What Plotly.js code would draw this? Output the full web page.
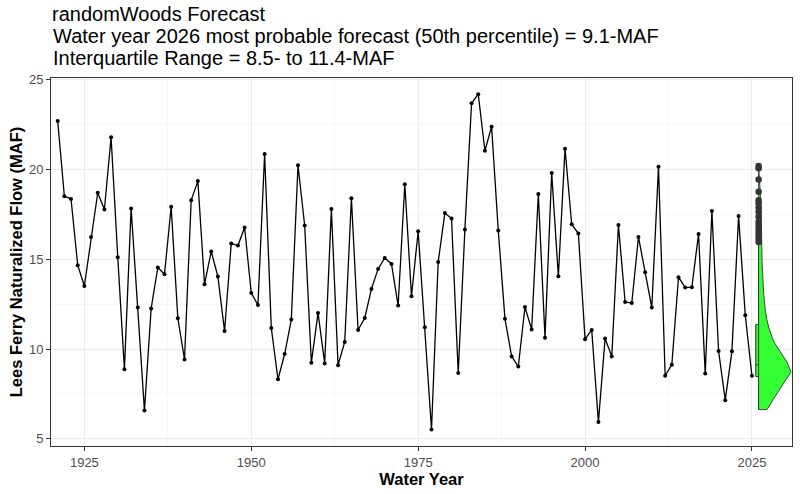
<!DOCTYPE html>
<html>
<head>
<meta charset="utf-8">
<script src="https://cdn.plot.ly/plotly-3.0.1.min.js"></script>
<style>html,body{margin:0;padding:0;background:#fff;}#chart{width:800px;height:494px;}</style>
</head>
<body>
<div id="chart"></div>
<script>
// Observed water-year naturalized flow at Lees Ferry (MAF), 1921-2025
const firstYear = 1921;
const flow = [
  22.70, 18.51, 18.35, 14.67, 13.51, 16.24, 18.70, 17.77, 21.79, 15.11,
  8.87, 17.83, 12.31, 6.58, 12.25, 14.54, 14.16, 17.92, 11.71, 9.42,
  18.29, 19.35, 13.61, 15.43, 14.04, 11.00, 15.88, 15.76, 16.77, 13.12,
  12.45, 20.86, 11.17, 8.31, 9.72, 11.64, 20.23, 16.88, 9.24, 12.01,
  9.20, 17.79, 9.10, 10.39, 18.39, 11.06, 11.73, 13.34, 14.46, 15.07,
  14.74, 12.42, 19.17, 12.94, 16.56, 11.21, 5.52, 14.85, 17.57, 17.27,
  8.66, 16.66, 23.68, 24.19, 21.04, 22.38, 16.60, 11.69, 9.59, 9.02,
  12.34, 11.08, 18.63, 10.63, 19.80, 14.05, 21.15, 16.95, 16.43, 10.55,
  11.06, 5.93, 10.58, 9.59, 16.90, 12.62, 12.56, 16.24, 14.28, 12.31,
  20.15, 8.51, 9.13, 14.00, 13.42, 13.44, 16.41, 8.63, 17.68, 9.89,
  7.15, 9.87, 17.40, 11.88, 8.51
];
const years = flow.map((_, i) => firstYear + i);

// 2026 forecast distribution
const forecastYear = 2026;
const boxQ1 = 8.47, boxMedian = 9.13, boxQ3 = 11.37, boxLower = 6.63, boxUpper = 15.9;
const outliers = [20.19, 20.06, 19.44, 18.75, 18.29, 18.11, 17.88, 17.64, 17.36, 17.08, 16.90, 16.71, 16.52, 16.34, 16.15, 15.96];
// half-violin density profile: flow level and half-width (in years on the x scale)
const violinLevels = [6.63, 7.2, 7.8, 8.3, 8.71, 9.0, 9.27, 9.55, 9.83, 10.11, 10.39, 10.67, 10.95, 11.22, 11.7, 12.16, 13.09, 14.0, 14.94, 16.06, 17.0, 17.73, 18.86, 20.19];
const violinWidth  = [1.26, 2.2, 3.2, 4.1, 4.85, 4.6, 4.25, 3.75, 3.25, 2.76, 2.3, 2.0, 1.7, 1.5, 1.2, 1.0, 0.75, 0.6, 0.51, 0.46, 0.42, 0.38, 0.22, 0.05];

const xTicks = [1925, 1950, 1975, 2000, 2025];
const yTicks = [5, 10, 15, 20, 25];

const titleLines = [
  'randomWoods Forecast',
  'Water year 2026 most probable forecast (50th percentile) = 9.1-MAF',
  'Interquartile Range = 8.5- to 11.4-MAF'
];

const vx = [forecastYear], vy = [violinLevels[0]];
for (let i = 0; i < violinLevels.length; i++) { vx.push(forecastYear + violinWidth[i]); vy.push(violinLevels[i]); }
vx.push(forecastYear); vy.push(violinLevels[violinLevels.length - 1]);
vx.push(forecastYear); vy.push(violinLevels[0]);

const FONT = 'Liberation Sans, Arial, Helvetica, sans-serif';
const TITLE_SIZE = 20;
const traces = [
  {type: 'scatter', mode: 'lines+markers', x: years, y: flow,
   line: {color: '#000000', width: 1.3}, marker: {color: '#000000', size: 4},
   hoverinfo: 'x+y', showlegend: false},
  {type: 'scatter', mode: 'lines', x: vx, y: vy, fill: 'toself',
   fillcolor: '#33FF33', line: {color: '#333333', width: 0.9}, showlegend: false, hoverinfo: 'skip'},
  {type: 'box', orientation: 'v', x: [forecastYear], q1: [boxQ1], median: [boxMedian], q3: [boxQ3],
   lowerfence: [boxLower], upperfence: [boxUpper], width: 0.85, boxpoints: false,
   fillcolor: '#33FF33', line: {color: '#333333', width: 1}, whiskerwidth: 0, showlegend: false},
  {type: 'scatter', mode: 'markers', x: outliers.map(() => forecastYear), y: outliers,
   marker: {color: '#333333', size: 6.5}, showlegend: false}
];

const axisCommon = {
  showline: true, mirror: true, linecolor: '#333333', linewidth: 1,
  showgrid: true, gridcolor: '#EBEBEB', gridwidth: 1, zeroline: false,
  ticks: 'outside', ticklen: 4, tickwidth: 1, tickcolor: '#333333',
  tickfont: {family: FONT, size: 13, color: '#4D4D4D'}
};

// paper y for a pixel row (plot area: top 78, bottom 446)
const pyToPaper = py => (446 - py) / 368;

const layout = {
  width: 800, height: 494,
  paper_bgcolor: '#FFFFFF', plot_bgcolor: '#FFFFFF',
  margin: {l: 51, r: 8, t: 78, b: 48},
  font: {family: FONT},
  title: {text: titleLines[0], xref: 'container', yref: 'container',
          x: 52 / 800, xanchor: 'left', y: 1 - 14 / 494, yanchor: 'middle',
          font: {family: FONT, size: TITLE_SIZE, color: '#000000'}},
  annotations: [
    {text: titleLines[1], xref: 'paper', yref: 'paper', x: 0, xanchor: 'left', xshift: 0,
     y: pyToPaper(36.5), yanchor: 'middle', showarrow: false, align: 'left',
     font: {family: FONT, size: TITLE_SIZE, color: '#000000'}},
    {text: titleLines[2], xref: 'paper', yref: 'paper', x: 0, xanchor: 'left', xshift: 0,
     y: pyToPaper(58), yanchor: 'middle', showarrow: false, align: 'left',
     font: {family: FONT, size: TITLE_SIZE, color: '#000000'}}
  ],
  xaxis: Object.assign({}, axisCommon, {
    range: [1920, 2031], tickmode: 'array', tickvals: xTicks, ticktext: xTicks.map(String),
    minor: {dtick: 12.5, tick0: 1925, showgrid: true, gridcolor: '#F2F2F2', gridwidth: 0.6, ticks: ''},
    title: {text: '<b>Water Year</b>', standoff: 0, font: {family: FONT, size: 16.5, color: '#000000'}}
  }),
  yaxis: Object.assign({}, axisCommon, {
    range: [4.6, 25.09], tickmode: 'array', tickvals: yTicks, ticktext: yTicks.map(String),
    minor: {dtick: 2.5, tick0: 0, showgrid: true, gridcolor: '#F2F2F2', gridwidth: 0.6, ticks: ''},
    title: {text: '<b>Lees Ferry Naturalized Flow (MAF)</b>', standoff: 2, font: {family: FONT, size: 16.5, color: '#000000'}}
  }),
  showlegend: false
};

Plotly.newPlot('chart', traces, layout, {displayModeBar: false, staticPlot: true});
</script>
</body>
</html>
